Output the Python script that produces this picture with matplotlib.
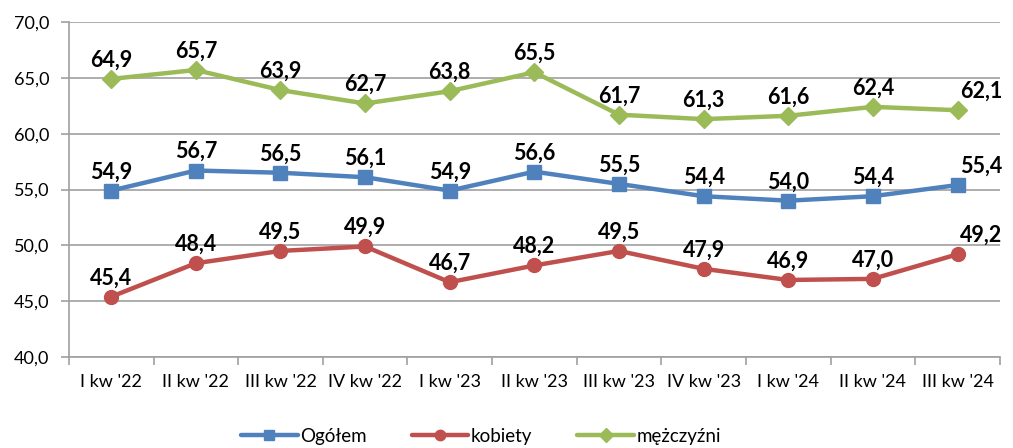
import numpy as np
import matplotlib.pyplot as plt
from matplotlib.ticker import FuncFormatter

quarters = ["I kw '22", "II kw '22", "III kw '22", "IV kw '22", "I kw '23", "II kw '23",
            "III kw '23", "IV kw '23", "I kw '24", "II kw '24", "III kw '24"]
ogolem = [54.9, 56.7, 56.5, 56.1, 54.9, 56.6, 55.5, 54.4, 54.0, 54.4, 55.4]
kobiety = [45.4, 48.4, 49.5, 49.9, 46.7, 48.2, 49.5, 47.9, 46.9, 47.0, 49.2]
mezczyzni = [64.9, 65.7, 63.9, 62.7, 63.8, 65.5, 61.7, 61.3, 61.6, 62.4, 62.1]

plt.rcParams['font.family'] = ['Lato', 'DejaVu Sans']

def fmt(v):
    return f"{v:.1f}".replace(".", ",")

fig = plt.figure(figsize=(10.13, 4.48), dpi=100)
ax = fig.add_axes([0.068, 0.203, 0.919, 0.748])

x = np.arange(len(quarters))
series = [
    ("Ogółem", ogolem, "#4F81BD", "s", 9.5),
    ("kobiety", kobiety, "#C0504D", "o", 10),
    ("mężczyźni", mezczyzni, "#9BBB59", "D", 9),
]
for name, vals, col, mk, ms in series:
    ax.plot(x, vals, color=col, lw=3.2, marker=mk, ms=ms, label=name,
            solid_capstyle='round', zorder=3)
    for i, v in enumerate(vals):
        if i == len(vals) - 1:
            ax.annotate(fmt(v), (i, v), xytext=(2, 6), textcoords='offset points',
                        ha='left', va='bottom', fontsize=15.5, fontweight='bold')
        else:
            ax.annotate(fmt(v), (i, v), xytext=(0, 6), textcoords='offset points',
                        ha='center', va='bottom', fontsize=15.5, fontweight='bold')

ax.set_xlim(-0.5, len(quarters) - 0.5)
ax.set_ylim(40, 70)
ax.set_yticks(np.arange(40, 71, 5))
ax.yaxis.set_major_formatter(FuncFormatter(lambda v, p: fmt(v)))
ax.set_xticks(x)
ax.set_xticklabels(quarters)
ax.set_xticks(np.arange(-0.5, len(quarters), 1), minor=True)
ax.tick_params(axis='x', which='major', length=0, pad=12, labelsize=13)
ax.tick_params(axis='x', which='minor', length=6, width=1.2, color='#A0A0A0')
ax.tick_params(axis='y', length=6, width=1.2, color='#A0A0A0', labelsize=13, pad=8)

ax.grid(axis='y', color='#A0A0A0', lw=1.2)
ax.set_axisbelow(True)
for s in ['top', 'right']:
    ax.spines[s].set_visible(False)
for s in ['left', 'bottom']:
    ax.spines[s].set_color('#A0A0A0')
    ax.spines[s].set_linewidth(1.2)

fig.legend(loc='lower center', bbox_to_anchor=(0.475, -0.03), ncol=3, frameon=False,
           fontsize=13.5, handlelength=3, columnspacing=2.4, handletextpad=0.15,
           markerscale=0.75)

fig.savefig("out.png", dpi=100)
